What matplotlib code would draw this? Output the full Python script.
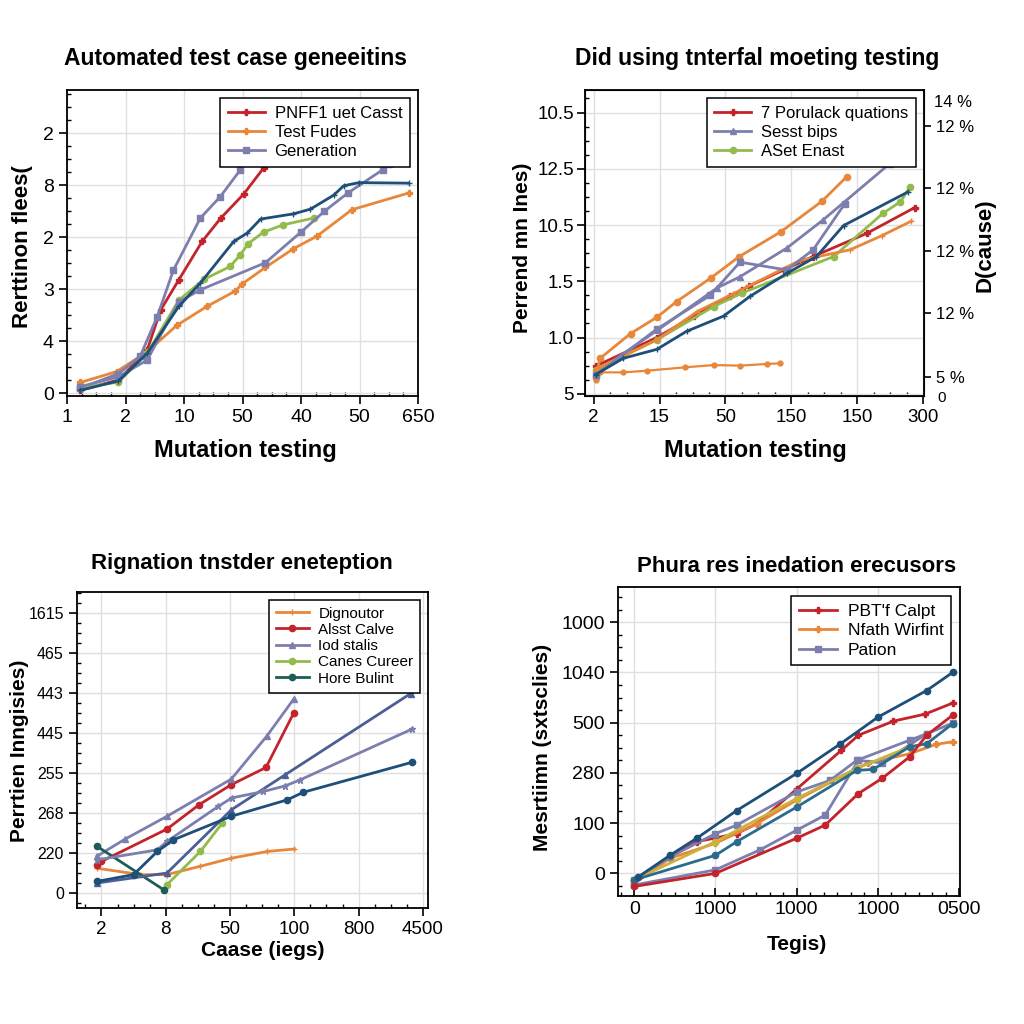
import matplotlib
matplotlib.use("Agg")
import matplotlib.pyplot as plt
from matplotlib.ticker import AutoMinorLocator

plt.rcParams['font.family'] = ['Liberation Sans', 'DejaVu Sans']

# colours
RED = '#c3242c'
ORANGE = '#e8873a'
SLATE = '#7c7fae'
NAVY = '#1d4f78'
GREEN = '#93bb4c'
TEAL = '#1e5d57'

# ---- panel 1 : Automated test case geneeitins ----
p1_xticklabels = ['1', '2', '10', '50', '40', '50', '650']
p1_yticklabels = ['0', '4', '3', '2', '8', '2']
p1_red_x = [0.23, 0.88, 1.37, 1.6, 1.91, 2.31, 2.63, 3.02, 3.36, 3.42]
p1_red_y = [0.06, 0.26, 0.83, 1.6, 2.18, 2.92, 3.37, 3.83, 4.33, 4.42]
p1_gen_x = [0.23, 0.88, 1.25, 1.54, 1.82, 2.28, 2.62, 2.96]
p1_gen_y = [0.10, 0.38, 0.71, 1.47, 2.37, 3.37, 3.78, 4.29]
p1_org_x = [0.23, 0.85, 1.37, 1.88, 2.39, 2.88, 2.99, 3.39, 3.87, 4.27, 4.87, 5.84]
p1_org_y = [0.21, 0.42, 0.80, 1.31, 1.67, 1.97, 2.10, 2.42, 2.78, 3.02, 3.53, 3.85]
p1_grn_x = [0.23, 0.88, 1.37, 1.91, 2.34, 2.79, 2.96, 3.10, 3.36, 3.70, 4.22]
p1_grn_y = [0.10, 0.22, 0.77, 1.79, 2.19, 2.44, 2.66, 2.88, 3.10, 3.24, 3.37]
p1_nav_x = [0.23, 0.88, 1.37, 1.91, 2.28, 2.85, 3.08, 3.31, 3.87, 4.16, 4.56, 4.73, 4.99, 5.84]
p1_nav_y = [0.06, 0.24, 0.77, 1.67, 2.12, 2.92, 3.08, 3.35, 3.45, 3.54, 3.81, 3.99, 4.05, 4.04]
p1_lav_x = [0.23, 0.88, 1.37, 1.91, 2.28, 3.39, 4.00, 4.40, 4.80, 5.40, 5.50]
p1_lav_y = [0.13, 0.32, 0.64, 1.76, 1.99, 2.51, 3.10, 3.50, 3.85, 4.30, 4.40]

# ---- panel 2 : Did using tnterfal moeting testing ----
p2_xticklabels = ['2', '15', '50', '150', '150', '300']
p2_yticklabels = ['5', '1.0', '1.5', '10.5', '12.5', '10.5']
p2_rticks = [0.30, 1.43, 2.54, 3.65, 4.76]
p2_rticklabels = ['5 %', '12 %', '12 %', '12 %', '12 %']
p2_org1_x = [0.03, 0.10, 0.56, 0.96, 1.26, 1.78, 2.21, 2.84, 3.46, 3.84]
p2_org1_y = [0.30, 0.63, 1.07, 1.36, 1.64, 2.06, 2.44, 2.88, 3.42, 3.86]
p2_org2_x = [0.03, 0.10, 0.45, 0.81, 1.39, 1.82, 2.22, 2.63, 2.83]
p2_org2_y = [0.25, 0.38, 0.38, 0.41, 0.47, 0.51, 0.50, 0.53, 0.54]
p2_org3_x = [0.03, 0.96, 1.57, 2.12, 3.13, 3.89, 4.37, 4.82]
p2_org3_y = [0.43, 0.96, 1.46, 1.78, 2.37, 2.56, 2.81, 3.07]
p2_red_x = [0.03, 0.96, 1.52, 2.07, 2.25, 2.35, 2.88, 3.33, 4.14, 4.87]
p2_red_y = [0.49, 1.00, 1.38, 1.73, 1.85, 1.91, 2.20, 2.44, 2.85, 3.31]
p2_sla_x = [0.03, 0.98, 1.87, 2.22, 2.93, 3.48, 4.49]
p2_sla_y = [0.37, 1.14, 1.88, 2.08, 2.59, 3.09, 4.09]
p2_lav_x = [0.03, 0.96, 1.77, 2.22, 2.93, 3.33, 3.81]
p2_lav_y = [0.33, 1.15, 1.75, 2.34, 2.20, 2.56, 3.38]
p2_nav_x = [0.03, 0.45, 0.96, 1.41, 1.97, 2.37, 2.93, 3.38, 3.79, 4.77]
p2_nav_y = [0.34, 0.63, 0.79, 1.11, 1.38, 1.73, 2.14, 2.44, 2.99, 3.59]
p2_grn_x = [0.03, 0.96, 1.82, 2.25, 3.64, 4.39, 4.65, 4.80]
p2_grn_y = [0.43, 0.96, 1.55, 1.79, 2.44, 3.21, 3.41, 3.68]

# ---- panel 3 : Rignation tnstder eneteption ----
p3_xticklabels = ['2', '8', '50', '100', '800', '4500']
p3_yticklabels = ['0', '220', '268', '255', '445', '443', '465', '1615']
p3_sla_x = [-0.07, 0.37, 1.02, 2.02, 2.57, 2.99]
p3_sla_y = [0.92, 1.35, 1.92, 2.85, 3.92, 4.85]
p3_red_x = [-0.07, 0.0, 1.02, 1.52, 2.02, 2.56, 2.99]
p3_red_y = [0.71, 0.79, 1.60, 2.21, 2.71, 3.14, 4.50]
p3_org_x = [-0.07, 0.61, 1.02, 1.54, 2.02, 2.58, 3.00]
p3_org_y = [0.62, 0.46, 0.46, 0.67, 0.87, 1.04, 1.10]
p3_blu_x = [-0.07, 1.02, 2.02, 2.86, 4.81]
p3_blu_y = [0.25, 0.50, 2.08, 2.96, 4.99]
p3_lav_x = [-0.07, 0.87, 1.02, 1.82, 2.03, 2.52, 2.86, 3.09, 4.83]
p3_lav_y = [0.83, 1.08, 1.29, 2.17, 2.38, 2.54, 2.68, 2.83, 4.10]
p3_nav_x = [-0.07, 0.50, 0.87, 1.12, 2.02, 2.89, 3.14, 4.83]
p3_nav_y = [0.29, 0.46, 1.04, 1.33, 1.92, 2.33, 2.52, 3.27]
p3_tea_x = [-0.07, 0.97]
p3_tea_y = [1.17, 0.08]
p3_grn_x = [1.02, 1.54, 1.88]
p3_grn_y = [0.21, 1.04, 1.75]

# ---- panel 4 : Phura res inedation erecusors ----
p4_xticklabels = ['0', '1000', '1000', '1000', '0500']
p4_yticklabels = ['0', '100', '280', '500', '1040', '1000']
p4_nav_x = [0.05, 0.44, 0.77, 1.26, 2.00, 2.53, 3.00, 3.60, 3.92]
p4_nav_y = [-0.07, 0.36, 0.70, 1.25, 1.99, 2.57, 3.11, 3.64, 4.00]
p4_red1_x = [0.0, 0.44, 0.77, 1.26, 1.51, 2.00, 2.55, 2.76, 3.19, 3.58, 3.92]
p4_red1_y = [-0.13, 0.33, 0.63, 0.79, 0.99, 1.68, 2.45, 2.75, 3.03, 3.17, 3.39]
p4_red2_x = [0.0, 1.0, 2.0, 2.35, 2.76, 3.05, 3.39, 3.60, 3.92]
p4_red2_y = [-0.26, 0.0, 0.70, 0.96, 1.59, 1.89, 2.32, 2.75, 3.15]
p4_sla_x = [0.0, 1.0, 1.55, 2.0, 2.35, 2.76, 3.05, 3.60, 3.92]
p4_sla_y = [-0.23, 0.07, 0.47, 0.86, 1.16, 2.25, 2.20, 2.78, 2.99]
p4_lav_x = [0.0, 0.44, 1.0, 1.26, 2.0, 2.41, 2.74, 3.39, 3.60]
p4_lav_y = [-0.13, 0.33, 0.79, 0.96, 1.62, 1.85, 2.25, 2.65, 2.78]
p4_org_x = [0.0, 0.44, 1.0, 1.51, 2.0, 2.74, 2.88, 3.39, 3.72, 3.92]
p4_org_y = [-0.20, 0.30, 0.60, 0.99, 1.46, 2.09, 2.20, 2.38, 2.57, 2.62]
p4_grn_x = [0.0, 1.0, 2.0, 2.74, 3.39]
p4_grn_y = [-0.13, 0.63, 1.49, 2.09, 2.52]
p4_tea_x = [0.0, 1.0, 1.26, 2.0, 2.74, 2.94, 3.39, 3.60, 3.92]
p4_tea_y = [-0.13, 0.36, 0.63, 1.32, 2.05, 2.07, 2.52, 2.58, 2.98]


def box(l, t, r, b):
    return [l / 1024, 1 - b / 1024, (r - l) / 1024, (b - t) / 1024]


def style(ax, xlabels, ylabels, tsize=13, xin=False):
    ax.set_xticks(range(len(xlabels)))
    ax.set_xticklabels(xlabels, fontsize=tsize)
    ax.set_yticks(range(len(ylabels)))
    ax.set_yticklabels(ylabels, fontsize=tsize)
    ax.xaxis.set_minor_locator(AutoMinorLocator(4))
    ax.yaxis.set_minor_locator(AutoMinorLocator(4))
    ax.grid(True, color='#e0e0e0', linewidth=1.0)
    ax.set_axisbelow(True)
    ax.tick_params(which='major', length=6, width=1.2, direction='out')
    ax.tick_params(which='minor', length=3, width=1, direction='in')
    if xin:
        ax.tick_params(axis='x', which='both', direction='in')
    for s in ax.spines.values():
        s.set_linewidth(1.3)


def leg(ax, size, sp=0.25):
    lg = ax.legend(loc='upper right', fontsize=size, fancybox=False, framealpha=1,
                   edgecolor='black', borderpad=0.45, labelspacing=sp,
                   handlelength=2.2, handletextpad=0.6)
    lg.get_frame().set_linewidth(1.1)


fig = plt.figure(figsize=(10.24, 10.24), dpi=100)
kw = dict(linewidth=2.0, markersize=4.5)

# panel 1
ax1 = fig.add_axes(box(67, 90, 418, 396))
ax1.plot(p1_red_x, p1_red_y, color=RED, marker='P', label='PNFF1 uet Casst', **kw)
ax1.plot(p1_org_x, p1_org_y, color=ORANGE, marker='P', label='Test Fudes', **kw)
ax1.plot(p1_gen_x, p1_gen_y, color=SLATE, marker='s', label='Generation', **kw)
ax1.plot(p1_grn_x, p1_grn_y, color=GREEN, marker='o', **kw)
ax1.plot(p1_lav_x, p1_lav_y, color=SLATE, marker='s', **kw)
ax1.plot(p1_nav_x, p1_nav_y, color=NAVY, marker='+', **kw)
ax1.set_xlim(0, 6)
ax1.set_ylim(-0.05, 5.83)
style(ax1, p1_xticklabels, p1_yticklabels, 14)
leg(ax1, 12)

# panel 2
ax2 = fig.add_axes(box(585, 90, 924, 396))
ax2.plot(p2_red_x, p2_red_y, color=RED, marker='P', label='7 Porulack quations', **kw)
ax2.plot(p2_sla_x, p2_sla_y, color=SLATE, marker='^', label='Sesst bips', **kw)
ax2.plot(p2_grn_x, p2_grn_y, color=GREEN, marker='o', label='ASet Enast', **kw)
ax2.plot(p2_org1_x, p2_org1_y, color=ORANGE, marker='o', **kw)
ax2.plot(p2_org2_x, p2_org2_y, color=ORANGE, marker='o', linewidth=1.6, markersize=3.5)
ax2.plot(p2_org3_x, p2_org3_y, color=ORANGE, marker='+', **kw)
ax2.plot(p2_lav_x, p2_lav_y, color=SLATE, marker='s', **kw)
ax2.plot(p2_nav_x, p2_nav_y, color=NAVY, marker='+', **kw)
ax2.set_xlim(-0.13, 5.01)
ax2.set_ylim(-0.04, 5.4)
style(ax2, p2_xticklabels, p2_yticklabels, 13.5)
ax2.tick_params(axis='y', which='major', pad=2)
leg(ax2, 12)
ax2r = ax2.twinx()
ax2r.set_ylim(-0.04, 5.4)
ax2r.set_yticks(p2_rticks)
ax2r.set_yticklabels(p2_rticklabels, fontsize=12)
ax2r.tick_params(length=5, width=1.2)
ax2r.text(1.03, 0.96, '14 %', transform=ax2.transAxes, fontsize=12, va='center')
ax2r.text(1.04, -0.005, '0', transform=ax2.transAxes, fontsize=11, va='center')

# panel 3
ax3 = fig.add_axes(box(77, 592, 428, 908))
ax3.plot(p3_org_x, p3_org_y, color=ORANGE, marker='+', label='Dignoutor', **kw)
ax3.plot(p3_red_x, p3_red_y, color=RED, marker='o', label='Alsst Calve', **kw)
ax3.plot(p3_sla_x, p3_sla_y, color=SLATE, marker='^', label='Iod stalis', **kw)
ax3.plot(p3_grn_x, p3_grn_y, color=GREEN, marker='o', label='Canes Cureer', **kw)
ax3.plot(p3_tea_x, p3_tea_y, color=TEAL, marker='o', label='Hore Bulint', **kw)
ax3.plot(p3_blu_x, p3_blu_y, color='#4b5f94', marker='^', **kw)
ax3.plot(p3_lav_x, p3_lav_y, color=SLATE, marker='*', **kw)
ax3.plot(p3_nav_x, p3_nav_y, color=NAVY, marker='o', **kw)
ax3.set_xlim(-0.38, 5.08)
ax3.set_ylim(-0.375, 7.53)
style(ax3, p3_xticklabels, p3_yticklabels, 11.5)
ax3.tick_params(axis='x', labelsize=13.5)
leg(ax3, 11, 0.15)

# panel 4
ax4 = fig.add_axes(box(618, 587, 960, 896))
ax4.plot(p4_red1_x, p4_red1_y, color=RED, marker='P', label='PBT\'f Calpt', **kw)
ax4.plot(p4_org_x, p4_org_y, color=ORANGE, marker='P', label='Nfath Wirfint', **kw)
ax4.plot(p4_sla_x, p4_sla_y, color=SLATE, marker='s', label='Pation', **kw)
ax4.plot(p4_lav_x, p4_lav_y, color=SLATE, marker='s', **kw)
ax4.plot(p4_grn_x, p4_grn_y, color='#c9b33c', marker='o', **kw)
ax4.plot(p4_tea_x, p4_tea_y, color='#2b6c8c', marker='o', **kw)
ax4.plot(p4_red2_x, p4_red2_y, color=RED, marker='o', **kw)
ax4.plot(p4_nav_x, p4_nav_y, color=NAVY, marker='o', **kw)
ax4.set_xlim(-0.2, 4.01)
ax4.set_ylim(-0.45, 5.7)
style(ax4, p4_xticklabels, p4_yticklabels, 14, xin=True)
ax4.xaxis.set_minor_locator(AutoMinorLocator(6))
leg(ax4, 12.5)

# titles and axis labels in pixel positions
def ftext(x, y, s, size, rot=0):
    fig.text(x / 1024, 1 - y / 1024, s, fontsize=size, fontweight='bold',
             ha='center', va='center', rotation=rot)

ftext(235, 58, 'Automated test case geneeitins', 16.5)
ftext(757, 58, 'Did using tnterfal moeting testing', 16.5)
ftext(242, 563, 'Rignation tnstder eneteption', 16)
ftext(797, 566, 'Phura res inedation erecusors', 16)

ftext(245, 451, 'Mutation testing', 17)
ftext(755, 451, 'Mutation testing', 17)
ftext(263, 950, 'Caase (iegs)', 15)
ftext(797, 945, 'Tegis)', 15)

ftext(23, 247, 'Rerttinon flees(', 16, 90)
ftext(523, 248, 'Perrend mn Ines)', 15, 90)
ftext(985, 245, 'D(cause)', 16, 90)
ftext(20, 751, 'Perrtien Inngisies)', 15, 90)
ftext(543, 747, 'Mesrtiimn (sxtsclies)', 15, 90)

fig.savefig('out.png', dpi=100, facecolor='white')
